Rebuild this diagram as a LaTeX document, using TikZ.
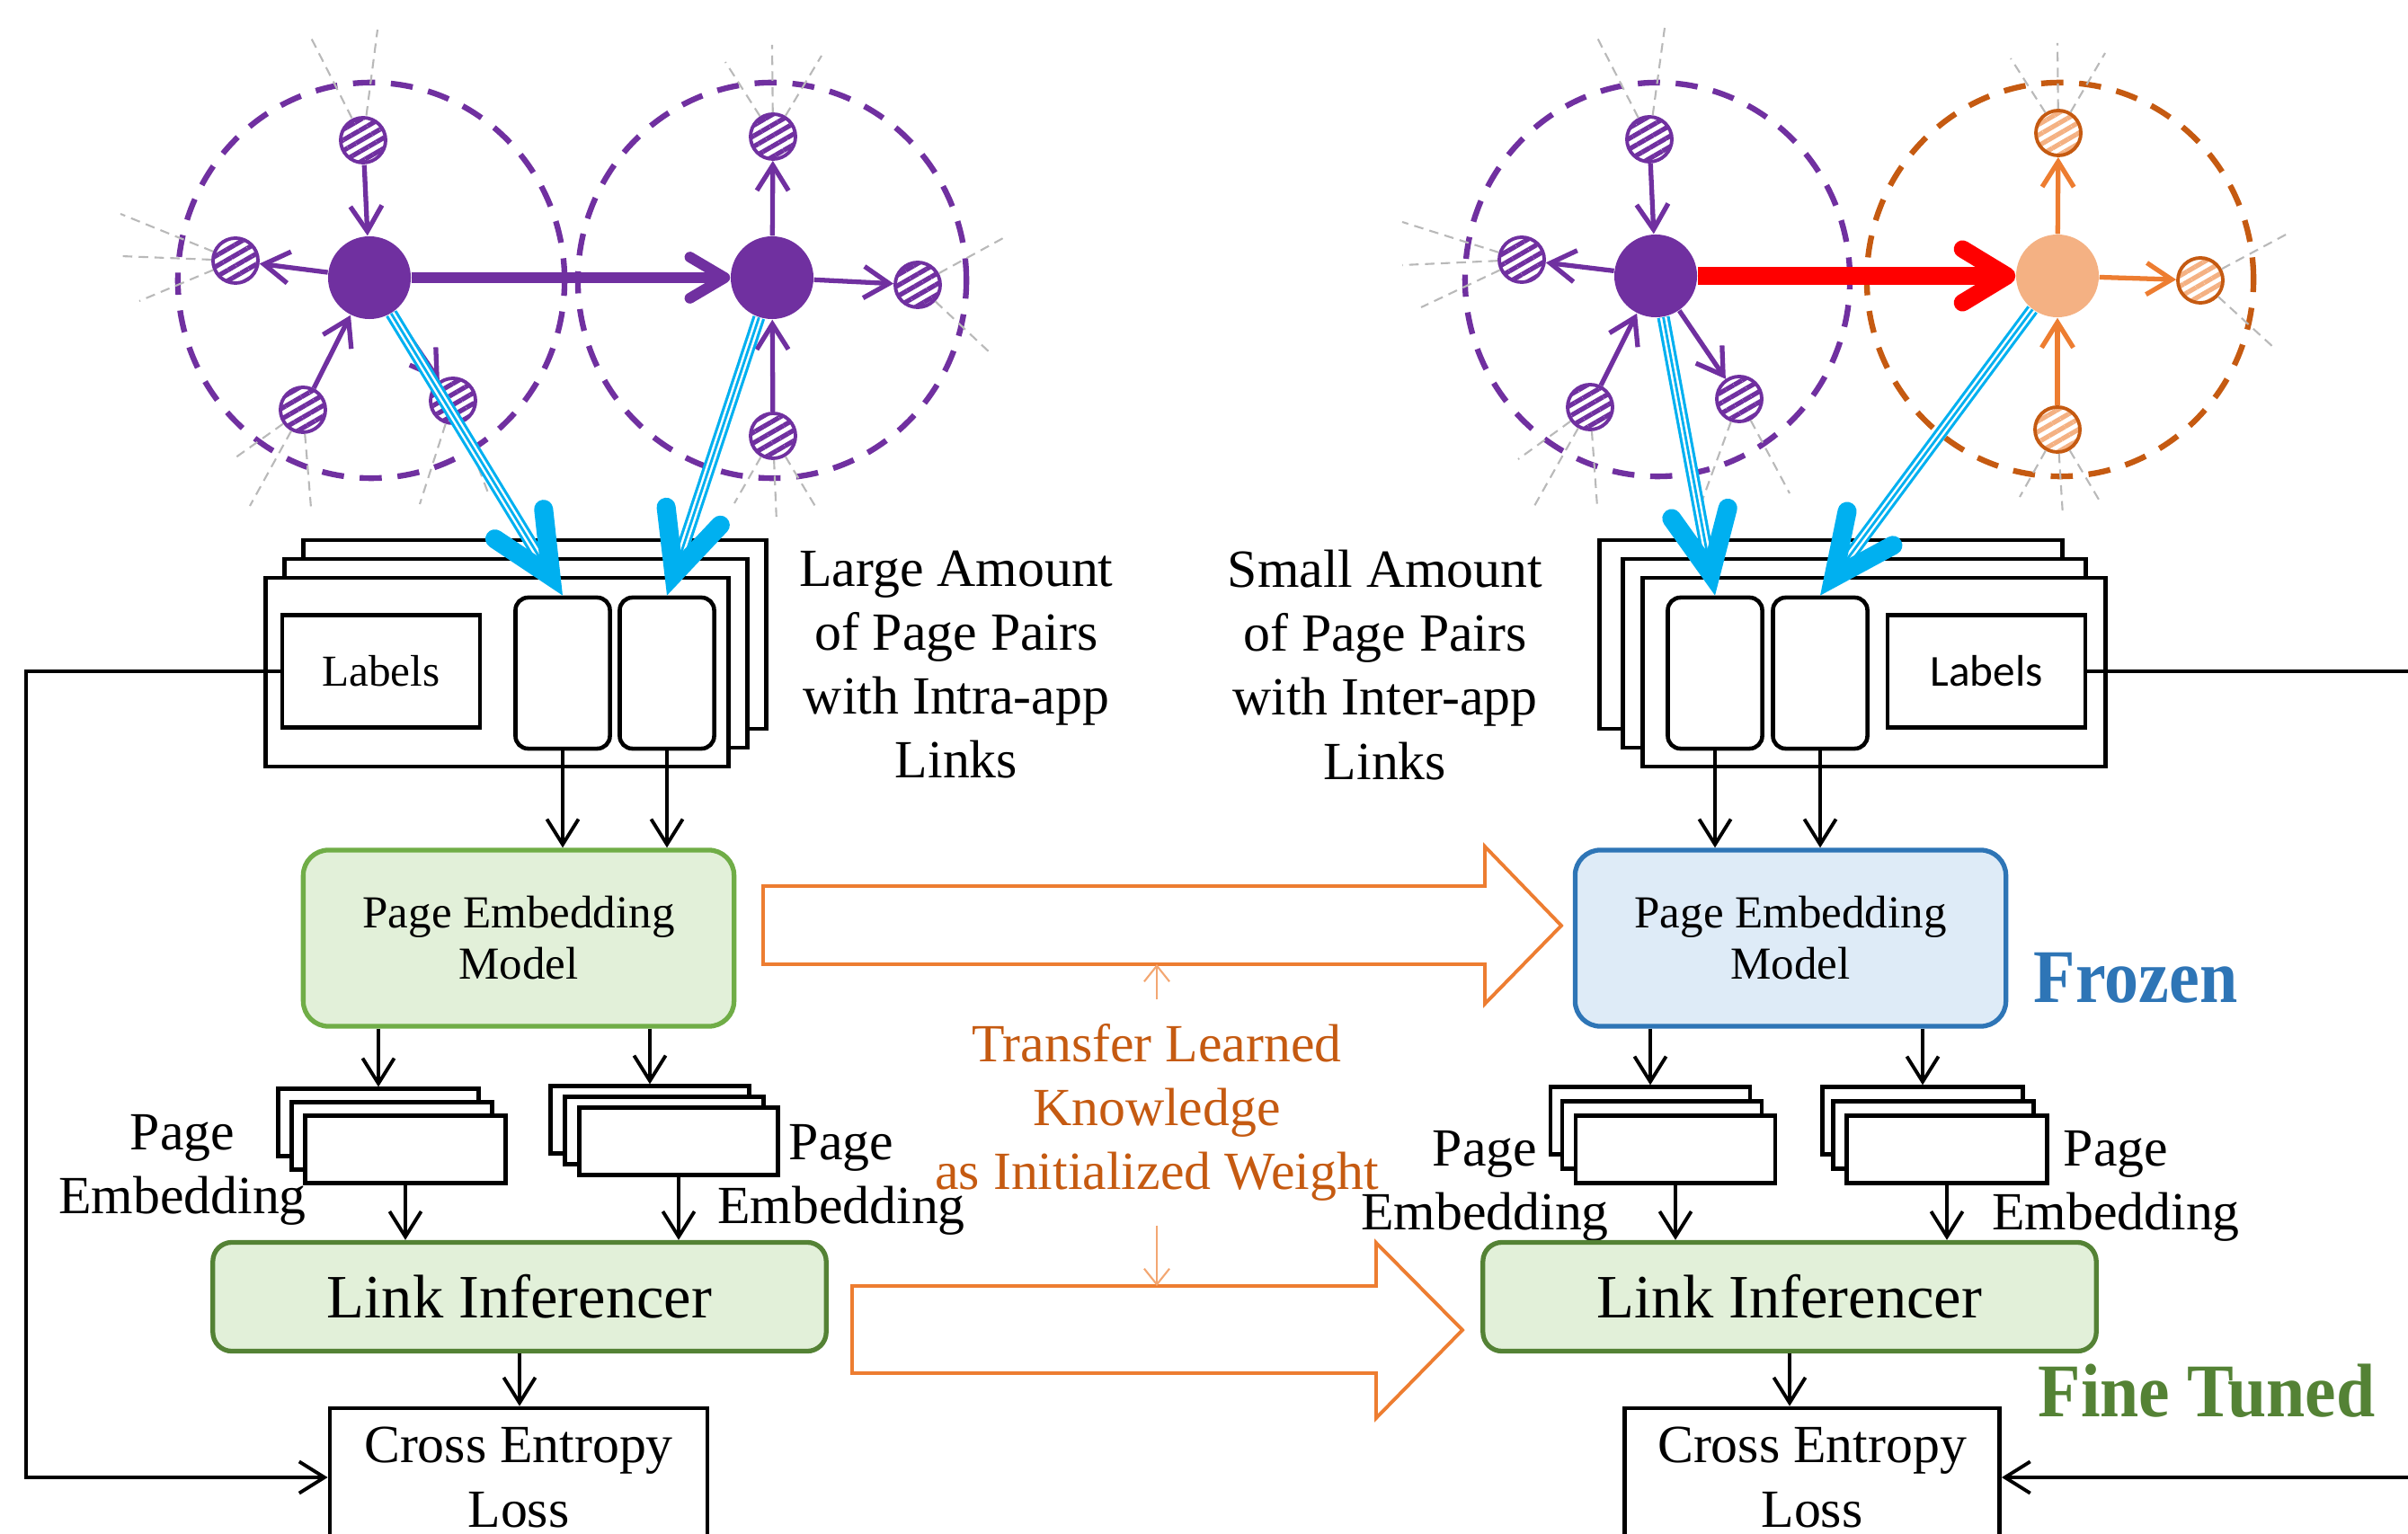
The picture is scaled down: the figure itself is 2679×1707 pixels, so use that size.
\documentclass[tikz,border=0pt]{standalone}
\usepackage{fontspec}
\usepackage{graphicx}
\setmainfont{Liberation Serif}
\newfontfamily\labelsans{Carlito}
\usetikzlibrary{arrows.meta,calc,patterns.meta}

\definecolor{vio}{HTML}{7030A0}
\definecolor{org}{HTML}{ED7D31}
\definecolor{orgdark}{HTML}{C55A11}
\definecolor{orglight}{HTML}{F4B183}
\definecolor{sky}{HTML}{00B0F0}
\definecolor{grnfill}{HTML}{E2F0D9}
\definecolor{grnline}{HTML}{70AD47}
\definecolor{grndark}{HTML}{548235}
\definecolor{blufill}{HTML}{DEEBF7}
\definecolor{bluline}{HTML}{2E75B6}

\newcommand\fsmall{\fontsize{14pt}{16.2pt}\selectfont}
\newcommand\fmodel{\fontsize{14.5pt}{16.2pt}\selectfont}
\newcommand\fmid{\fontsize{17pt}{20.2pt}\selectfont}
\newcommand\flarge{\fontsize{19.5pt}{24pt}\selectfont}
\newcommand\fbold{\fontsize{24pt}{28pt}\selectfont\bfseries}

\begin{document}
\begin{tikzpicture}[x=0.01cm, y=-0.01cm,
    hubv/.style = {circle, fill=vio, minimum size=0.92cm, inner sep=0pt},
    hubo/.style = {hubv, fill=orglight},
    pgv/.style = {circle, draw=vio, line width=1.1pt, minimum size=0.5cm,
      inner sep=0pt, pattern={Lines[angle=30,distance=2.9pt,line width=1.5pt]},
      pattern color=vio},
    pgo/.style = {pgv, draw=orgdark, pattern color=orglight},
    ring/.style = {line width=1.8pt, dash pattern=on 7pt off 5pt},
    cue/.style = {gray!55, line width=0.6pt, densely dashed},
    varr/.style = {vio, line width=1.5pt, -{Straight Barb[length=8pt,width=10pt]}},
    oarr/.style = {varr, org},
    bigarr/.style = {vio, line width=3.4pt,
      -{Straight Barb[length=11pt,width=13pt,round]}},
    redarr/.style = {red, line width=5.5pt,
      -{Straight Barb[length=14pt,width=17pt,round]}},
    tripleline/.style = {draw=white, line width=2.2pt,
      preaction={draw=sky, line width=4pt},
      postaction={draw=sky, line width=0.8pt}},
    chevron/.style = {sky, line width=6pt, line cap=round, line join=miter},
    pagebox/.style = {draw, fill=white, line width=1.3pt, inner sep=0pt,
      minimum width=5.15cm, minimum height=2.1cm},
    slot/.style = {draw, fill=white, line width=1.3pt, rounded corners=4pt,
      inner sep=0pt, minimum width=1.05cm, minimum height=1.68cm},
    labelbox/.style = {draw, fill=white, line width=1.3pt, inner sep=0pt,
      minimum width=2.2cm, minimum height=1.25cm, font=\fsmall},
    note/.style = {align=center, font=\fmid, inner sep=0pt},
    model/.style = {draw, line width=1.5pt, rounded corners=8pt, align=center,
      font=\fmodel, minimum width=4.79cm, minimum height=1.96cm},
    emb/.style = {draw, fill=white, line width=1.2pt, inner sep=0pt,
      minimum width=2.23cm, minimum height=0.75cm},
    infer/.style = {draw=grndark, fill=grnfill, line width=1.5pt,
      rounded corners=6pt, font=\flarge, minimum width=6.82cm,
      minimum height=1.21cm},
    lossbox/.style = {draw, line width=1.3pt, align=center, font=\fmid,
      minimum width=4.2cm, minimum height=1.54cm},
    flow/.style = {line width=1.1pt, -{Straight Barb[length=8pt,width=10pt]}},
    fatarrow/.style = {org, line width=1.1pt, line join=miter},
    hint/.style = {orglight!80!org, line width=0.6pt,
      -{Straight Barb[length=5pt,width=8pt]}}]

  \useasboundingbox (0,0) rectangle (2679,1707);
  \clip (0,0) rectangle (2679,1707);

  \draw[ring, vio] (413,312) ellipse[x radius=2.15cm, y radius=2.2cm];
  \draw[ring, vio] (859,312) ellipse[x radius=2.16cm, y radius=2.2cm];
  \draw[ring, vio] (1844,311) ellipse[x radius=2.14cm, y radius=2.19cm];
  \draw[ring, orgdark] (2292,311) ellipse[x radius=2.15cm, y radius=2.19cm];

  \node[hubv] (A) at (411,309) {};
  \node[hubv] (B) at (859,309) {};
  \node[pgv] (a1) at (404,156) {};
  \node[pgv] (a2) at (262,290) {};
  \node[pgv] (a3) at (337,456) {};
  \node[pgv] (a4) at (504,446) {};
  \node[pgv] (b1) at (860,152) {};
  \node[pgv] (b2) at (1021,317) {};
  \node[pgv] (b3) at (860,485) {};

  \node[hubv] (C) at (1842,307) {};
  \node[hubo] (D) at (2289,307) {};
  \node[pgv] (c1) at (1835,155) {};
  \node[pgv] (c2) at (1693,289) {};
  \node[pgv] (c3) at (1769,453) {};
  \node[pgv] (c4) at (1935,444) {};
  \node[pgo] (d1) at (2290,148) {};
  \node[pgo] (d2) at (2448,312) {};
  \node[pgo] (d3) at (2289,478) {};

  \foreach \n/\dx/\dy in {a1/-58/-114, a1/16/-123, a2/-128/-52, a2/-128/-5,
      a2/-107/45, a3/-79/56, a3/-59/107, a3/9/109, a4/-37/115, a4/40/105,
      b1/-53/-83, b1/-1/-102, b1/54/-90, b2/95/-52, b2/82/77, b3/-43/75,
      b3/4/96, b3/48/80, c1/-58/-113, c1/17/-124, c2/-133/-42, c2/-133/6,
      c2/-112/53, c3/-80/58, c3/-62/110, c3/8/111, c4/-42/115, c4/56/105,
      d1/-53/-83, d1/-1/-100, d1/52/-89, d2/97/-52, d2/83/76, d3/-42/75,
      d3/6/96, d3/49/83}
    \draw[cue] (\n) -- ++(\dx,\dy);

  \draw[varr] (a1) -- (A);
  \draw[varr] (A) -- (a2);
  \draw[varr] (a3) -- (A);
  \draw[varr] (A) -- (a4);
  \draw[varr] (B) -- (b1);
  \draw[varr] (B) -- (b2);
  \draw[varr] (b3) -- (B);
  \draw[bigarr] (A) -- (B);

  \draw[varr] (c1) -- (C);
  \draw[varr] (C) -- (c2);
  \draw[varr] (c3) -- (C);
  \draw[varr] (C) -- (c4);
  \draw[oarr] (D) -- (d1);
  \draw[oarr] (D) -- (d2);
  \draw[oarr] (d3) -- (D);
  \draw[redarr] (C) -- (D);

  \node[pagebox] (lback) at (595,706) {};
  \node[pagebox] (lmid) at (574,727) {};
  \node[pagebox] (lfront) at (553,748) {};
  \node[labelbox] (llabels) at (424,747) {Labels};
  \node[slot] (lp1) at (626,749) {};
  \node[slot] (lp2) at (742,749) {};

  \node[pagebox] (rback) at (2037,706) {};
  \node[pagebox] (rmid) at (2063,727) {};
  \node[pagebox] (rfront) at (2085,748) {};
  \node[slot] (rp1) at (1908,749) {};
  \node[slot] (rp2) at (2025,749) {};
  \node[labelbox, font=\labelsans\fsmall] (rlabels) at (2210,747) {Labels};

  \node[note] (large) at (1064,740) {Large Amount\\of Page Pairs\\with Intra-app\\Links};
  \node[note] (small) at (1541,740) {Small Amount\\of Page Pairs\\with Inter-app\\Links};

  \coordinate (lt1) at ($(lp1.north)!0.25cm!(A)$);
  \coordinate (lt2) at ($(lp2.north)!0.25cm!(B)$);
  \coordinate (rt1) at ($(rp1.north)!0.25cm!(C)$);
  \coordinate (rt2) at ($(rp2.north)!0.25cm!(D)$);
  \draw[tripleline] (A) -- (lt1);
  \draw[tripleline] (B) -- (lt2);
  \draw[tripleline] (C) -- (rt1);
  \draw[tripleline] (D) -- (rt2);
  \draw[chevron] ($(lt1)!0.75cm!25:(A)$) -- (lt1) -- ($(lt1)!0.75cm!-25:(A)$);
  \draw[chevron] ($(lt2)!0.75cm!25:(B)$) -- (lt2) -- ($(lt2)!0.75cm!-25:(B)$);
  \draw[chevron] ($(rt1)!0.75cm!25:(C)$) -- (rt1) -- ($(rt1)!0.75cm!-25:(C)$);
  \draw[chevron] ($(rt2)!0.75cm!25:(D)$) -- (rt2) -- ($(rt2)!0.75cm!-25:(D)$);

  \node[model, draw=grnline, fill=grnfill] (lpem) at (577,1044) {Page Embedding\\Model};
  \node[model, draw=bluline, fill=blufill] (rpem) at (1992,1044) {Page Embedding\\Model};
  \node[font=\fbold, text=bluline, inner sep=0pt] (frozen) at (2376,1088)
    {\scalebox{0.9}[1]{Frozen}};

  \draw[flow] (lp1.south) -- (lp1.south |- lpem.north);
  \draw[flow] (lp2.south) -- (lp2.south |- lpem.north);
  \draw[flow] (rp1.south) -- (rp1.south |- rpem.north);
  \draw[flow] (rp2.south) -- (rp2.south |- rpem.north);

  \node[emb] (le1b) at (421,1249) {};
  \node[emb] (le1m) at (436,1264) {};
  \node[emb] (le1f) at (451,1279) {};
  \node[emb, minimum width=2.21cm] (le2b) at (723,1246) {};
  \node[emb, minimum width=2.21cm] (le2m) at (739,1258) {};
  \node[emb, minimum width=2.21cm] (le2f) at (755,1270) {};
  \node[emb, minimum width=2.22cm] (re1b) at (1836,1247) {};
  \node[emb, minimum width=2.22cm] (re1m) at (1849,1263) {};
  \node[emb, minimum width=2.22cm] (re1f) at (1864,1279) {};
  \node[emb] (re2b) at (2139,1247) {};
  \node[emb] (re2m) at (2151,1263) {};
  \node[emb] (re2f) at (2166,1279) {};

  \node[note] (le1t) at (203,1302) {Page\\Embedding};
  \node[note] (le2t) at (936,1313) {Page\\Embedding};
  \node[note] (re1t) at (1652,1320) {Page\\Embedding};
  \node[note] (re2t) at (2354,1320) {Page\\Embedding};

  \draw[flow] (lpem.south -| le1b.north) -- (le1b.north);
  \draw[flow] (lpem.south -| le2b.north) -- (le2b.north);
  \draw[flow] (rpem.south -| re1b.north) -- (re1b.north);
  \draw[flow] (rpem.south -| re2b.north) -- (re2b.north);

  \node[infer] (lli) at (578,1443) {Link Inferencer};
  \node[infer] (rli) at (1991,1443) {Link Inferencer};
  \node[font=\fbold, text=grndark, inner sep=0pt] (tuned) at (2455,1548)
    {\scalebox{0.92}[1]{Fine Tuned}};

  \draw[flow] (le1f.south) -- (le1f.south |- lli.north);
  \draw[flow] (le2f.south) -- (le2f.south |- lli.north);
  \draw[flow] (re1f.south) -- (re1f.south |- rli.north);
  \draw[flow] (re2f.south) -- (re2f.south |- rli.north);

  \node[lossbox] (lce) at (577,1644) {Cross Entropy\\Loss};
  \node[lossbox, minimum width=4.17cm] (rce) at (2016,1644) {Cross Entropy\\Loss};
  \draw[flow] (lli.south) -- (lli.south |- lce.north);
  \draw[flow] (rli.south) -- (rli.south |- rce.north);
  \draw[flow] (llabels.west) -- ++(-283,0) |- (lce.west);
  \draw[flow] (rlabels.east) -- ++(420,0) |- (rce.east);

  \draw[fatarrow] (849,986) -- (1652,986) -- (1652,942) -- (1737,1030)
    -- (1652,1117) -- (1652,1073) -- (849,1073) -- cycle;
  \draw[fatarrow] (948,1431) -- (1531,1431) -- (1531,1383) -- (1627,1480)
    -- (1531,1578) -- (1531,1528) -- (948,1528) -- cycle;
  \node[note, text=orgdark] (transfer) at (1287,1238)
    {Transfer Learned\\Knowledge\\as Initialized Weight};
  \coordinate (upbar) at (1287,1073);
  \coordinate (lowbar) at (1287,1431);
  \draw[hint, shorten <=7.5pt] (transfer.north) -- (upbar);
  \draw[hint, shorten <=7.5pt] (transfer.south) -- (lowbar);
\end{tikzpicture}
\end{document}
